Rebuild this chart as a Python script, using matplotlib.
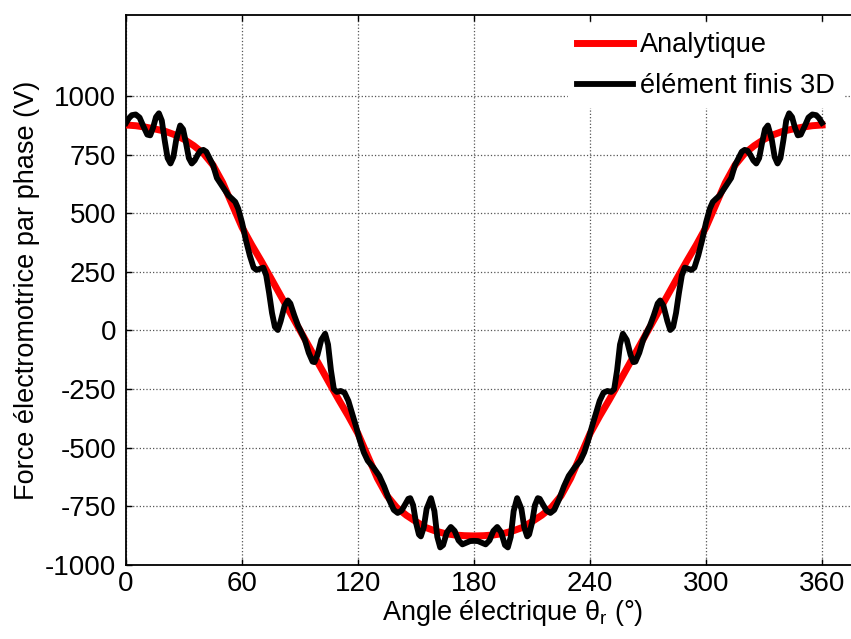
import matplotlib
matplotlib.use('Agg')
import matplotlib.pyplot as plt

plt.rcParams['font.family'] = ['Liberation Sans', 'DejaVu Sans']
plt.rcParams['mathtext.fontset'] = 'custom'
plt.rcParams['mathtext.rm'] = 'Liberation Sans'
plt.rcParams['mathtext.it'] = 'Liberation Sans'
plt.rcParams['axes.unicode_minus'] = False

# analytical curve (read every 5 degrees)
theta_an = [0, 5, 10, 15, 20, 25, 30, 35, 40, 45, 50, 55, 60, 65, 70, 75, 80, 85, 90,
            95, 100, 105, 110, 115, 120, 125, 130, 135, 140, 145, 150, 155, 160, 165, 170, 175, 180,
            185, 190, 195, 200, 205, 210, 215, 220, 225, 230, 235, 240, 245, 250, 255, 260, 265, 270,
            275, 280, 285, 290, 295, 300, 305, 310, 315, 320, 325, 330, 335, 340, 345, 350, 355, 360]
emf_an = [876, 873, 867, 859, 850, 835, 815, 788, 755, 705, 630, 535, 440, 365, 295, 222, 148, 74, 0,
          -74, -148, -222, -295, -365, -440, -535, -630, -705, -755, -788, -815, -840, -855, -866, -872, -875, -876,
          -875, -872, -866, -855, -840, -815, -788, -755, -705, -630, -535, -440, -365, -295, -222, -148, -74, 0,
          74, 148, 222, 295, 365, 440, 535, 630, 705, 755, 788, 815, 835, 850, 859, 867, 873, 876]

# 3D finite element curve, 0..180 deg (the curve is symmetric about 180 deg)
theta_fe_half = [0, 1.5, 3, 5, 7, 9, 11, 12.5, 14, 15.5, 17, 18.5, 20, 21.5, 23, 24.5, 26, 28, 29.5, 31,
                 32.5, 34, 35.5, 37, 38.5, 40, 41.5, 43, 45, 47, 49, 51, 53, 55, 56.5, 58, 60, 62, 64, 66,
                 67.5, 69, 71, 72.5, 74, 75.5, 77, 78.5, 80, 82, 83.7, 85, 87, 89, 90.5, 92.5, 94.5, 96.5,
                 97.5, 99, 101, 103, 104.5, 106, 107.5, 109, 111, 113, 115, 117, 119, 121, 123, 125, 128,
                 131, 133.5, 136, 138.5, 140.5, 142.5, 144.5, 146, 147, 148.5, 150, 151.5, 152.5, 154, 155.5,
                 157.7, 159.5, 161, 162.5, 164, 166, 168, 170, 172, 174, 176, 178, 180]
emf_fe_half = [885, 905, 918, 921, 908, 870, 835, 832, 865, 910, 926, 895, 810, 735, 712, 740, 815, 874, 858, 800,
               735, 712, 725, 748, 766, 770, 762, 738, 705, 650, 625, 600, 575, 560, 548, 520, 460, 385, 320, 268,
               258, 262, 268, 235, 160, 75, 15, 2, 40, 105, 128, 115, 65, 20, -5, -40, -95, -133,
               -135, -105, -40, -14, -60, -170, -250, -262, -258, -265, -300, -355, -410, -470, -520, -555, -585,
               -620, -665, -720, -765, -778, -768, -740, -718, -715, -745, -820, -870, -878, -840, -760,
               -715, -770, -880, -925, -915, -860, -838, -855, -895, -912, -905, -898, -897]

theta_fe = theta_fe_half + [360 - t for t in reversed(theta_fe_half[:-1])]
emf_fe = emf_fe_half + list(reversed(emf_fe_half[:-1]))

xticks = [0, 60, 120, 180, 240, 300, 360]
yticks = [-1000, -750, -500, -250, 0, 250, 500, 750, 1000]

fig = plt.figure(figsize=(8.51, 6.39), dpi=100)
# axes runs past the right edge of the picture, as in the original
ax = fig.add_axes([0.1481, 0.1158, 0.9087, 0.8607])

ax.plot(theta_an, emf_an, color='red', lw=5, label='Analytique', zorder=3)
ax.plot(theta_fe, emf_fe, color='black', lw=4.2, label='élément finis 3D', zorder=4)

ax.set_xlim(0, 400)
ax.set_ylim(-1000, 1345)
ax.set_xticks(xticks)
ax.set_yticks(yticks)
ax.tick_params(direction='in', length=4, width=1, labelsize=20, top=True, right=True)
ax.tick_params(axis='x', pad=4)
ax.tick_params(axis='y', pad=7)
ax.grid(True, color='#555555', linestyle=':', linewidth=0.9)
for s in ax.spines.values():
    s.set_linewidth(1.3)

ax.set_xlabel('Angle électrique θ$_\\mathregular{r}$ (°)', fontsize=19.5, labelpad=1)
ax.set_ylabel('Force électromotrice par phase (V)', fontsize=19.5, labelpad=4)

leg = ax.legend(loc='upper left', bbox_to_anchor=(0.668, 0.962), bbox_transform=fig.transFigure,
                fontsize=19.5, frameon=True, fancybox=False, edgecolor='white', framealpha=1,
                borderaxespad=0, borderpad=0.3, handlelength=2.1, handletextpad=0.25, labelspacing=0.55)
leg.set_zorder(10)

fig.savefig('out.png', dpi=100)
